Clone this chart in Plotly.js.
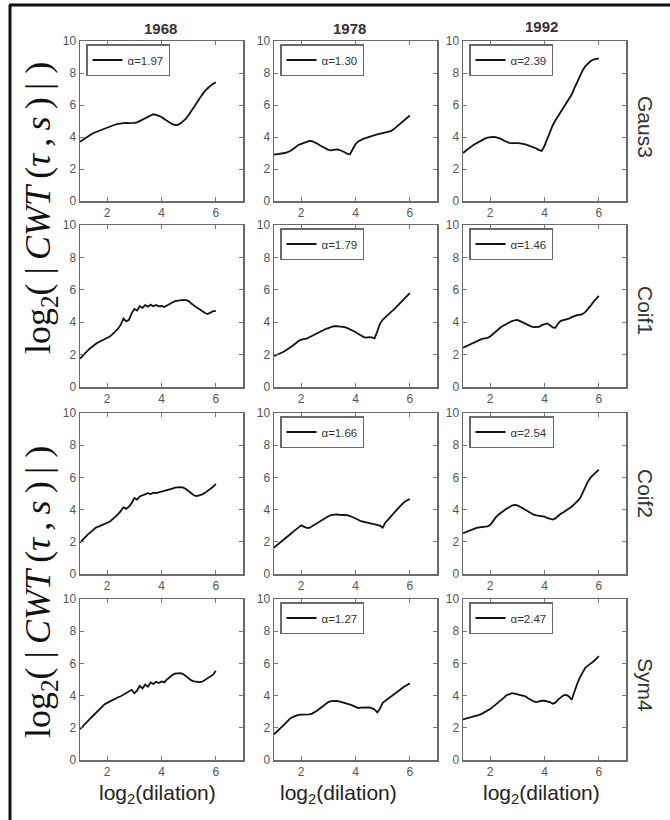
<!DOCTYPE html>
<html><head><meta charset="utf-8">
<script src="https://cdn.plot.ly/plotly-3.0.1.min.js"></script>
<style>html,body{margin:0;padding:0;background:#fff}</style>
</head><body><div id="chart" style="width:670px;height:820px"></div>
<script>
// ---------- data ----------
const dilation = [1.0,1.1,1.2,1.3,1.4,1.5,1.6,1.7,1.8,1.9,2.0,2.1,2.2,2.3,2.4,2.5,2.6,2.7,2.8,2.9,3.0,3.1,3.2,3.3,3.4,3.5,3.6,3.7,3.8,3.9,4.0,4.1,4.2,4.3,4.4,4.5,4.6,4.7,4.8,4.9,5.0,5.1,5.2,5.3,5.4,5.5,5.6,5.7,5.8,5.9,6.0];
const years = ["1968","1978","1992"];
const wavelets = ["Gaus3","Coif1","Coif2","Sym4"];
const xTicks = [2,4,6];
const yTicks = [0,2,4,6,8,10];

const gaus3_1968 = [3.70,3.82,3.95,4.05,4.15,4.25,4.32,4.38,4.45,4.50,4.55,4.62,4.70,4.78,4.82,4.85,4.86,4.88,4.87,4.86,4.88,4.92,5.00,5.08,5.15,5.25,5.35,5.42,5.38,5.32,5.25,5.12,5.00,4.90,4.80,4.75,4.76,4.85,4.98,5.15,5.38,5.65,5.92,6.18,6.42,6.65,6.88,7.05,7.20,7.32,7.42];
const gaus3_1978 = [2.90,2.92,2.95,2.98,3.00,3.05,3.12,3.25,3.38,3.50,3.57,3.63,3.70,3.75,3.74,3.68,3.58,3.47,3.37,3.28,3.20,3.17,3.20,3.23,3.20,3.14,3.05,2.95,2.92,3.25,3.55,3.72,3.82,3.90,3.95,4.02,4.08,4.12,4.17,4.20,4.24,4.27,4.30,4.36,4.48,4.62,4.78,4.93,5.08,5.22,5.34];
const gaus3_1992 = [3.00,3.15,3.28,3.40,3.52,3.62,3.72,3.82,3.90,3.96,4.00,4.01,3.99,3.95,3.88,3.78,3.68,3.63,3.62,3.64,3.62,3.60,3.58,3.54,3.48,3.42,3.37,3.28,3.18,3.13,3.45,3.90,4.35,4.72,5.03,5.30,5.55,5.78,6.05,6.30,6.65,7.05,7.42,7.80,8.15,8.42,8.62,8.75,8.84,8.90,8.92];

const coif1_1968 = [1.75,1.95,2.12,2.28,2.42,2.56,2.68,2.78,2.86,2.93,3.00,3.12,3.26,3.42,3.60,3.85,4.22,4.05,4.15,4.55,4.82,4.72,4.98,4.88,5.06,4.96,5.08,4.98,5.06,4.98,5.00,4.94,5.05,5.15,5.22,5.30,5.34,5.36,5.38,5.36,5.30,5.15,5.00,4.90,4.80,4.68,4.57,4.50,4.60,4.68,4.68];
const coif1_1978 = [1.92,1.98,2.05,2.13,2.22,2.32,2.43,2.56,2.70,2.84,2.92,2.95,2.99,3.07,3.16,3.24,3.32,3.41,3.49,3.58,3.64,3.70,3.75,3.76,3.74,3.73,3.69,3.63,3.56,3.49,3.40,3.28,3.16,3.08,3.05,3.08,3.06,3.00,3.42,3.90,4.15,4.32,4.48,4.62,4.76,4.94,5.14,5.32,5.48,5.64,5.80];
const coif1_1992 = [2.42,2.50,2.60,2.68,2.76,2.84,2.92,2.97,3.00,3.03,3.12,3.27,3.42,3.58,3.70,3.80,3.90,3.99,4.07,4.12,4.14,4.07,3.98,3.89,3.80,3.74,3.70,3.69,3.72,3.82,3.88,3.92,3.82,3.68,3.65,3.92,4.08,4.12,4.14,4.22,4.31,4.38,4.43,4.46,4.50,4.62,4.80,5.02,5.25,5.45,5.63];

const coif2_1968 = [1.95,2.15,2.32,2.48,2.62,2.78,2.90,2.96,3.02,3.10,3.18,3.26,3.38,3.55,3.72,3.90,4.15,4.05,4.18,4.40,4.72,4.62,4.82,4.88,4.94,5.02,4.96,5.05,5.02,5.06,5.10,5.14,5.18,5.24,5.30,5.36,5.39,5.40,5.36,5.28,5.14,4.99,4.88,4.84,4.88,4.95,5.04,5.15,5.28,5.42,5.60];
const coif2_1978 = [1.65,1.78,1.90,2.03,2.17,2.32,2.47,2.62,2.77,2.92,3.02,2.94,2.86,2.86,2.97,3.08,3.19,3.30,3.40,3.50,3.59,3.65,3.69,3.70,3.68,3.67,3.67,3.65,3.60,3.54,3.46,3.37,3.28,3.24,3.21,3.18,3.15,3.12,3.07,3.00,2.88,3.20,3.38,3.55,3.75,3.95,4.14,4.33,4.48,4.58,4.65];
const coif2_1992 = [2.53,2.60,2.67,2.74,2.80,2.86,2.90,2.92,2.94,2.96,3.04,3.30,3.50,3.68,3.82,3.94,4.05,4.15,4.25,4.29,4.26,4.18,4.08,3.96,3.84,3.74,3.68,3.64,3.62,3.60,3.56,3.48,3.42,3.38,3.45,3.62,3.74,3.84,3.94,4.06,4.18,4.34,4.50,4.68,5.02,5.42,5.75,6.00,6.18,6.33,6.48];

const sym4_1968 = [1.91,2.10,2.28,2.45,2.62,2.78,2.95,3.12,3.28,3.45,3.55,3.65,3.75,3.82,3.90,3.96,4.05,4.15,4.25,4.36,4.15,4.30,4.60,4.45,4.68,4.55,4.82,4.72,4.86,4.78,4.88,4.82,5.00,5.15,5.28,5.36,5.40,5.40,5.34,5.22,5.06,4.94,4.88,4.85,4.84,4.86,4.96,5.08,5.18,5.30,5.54];
const sym4_1978 = [1.60,1.78,1.92,2.07,2.25,2.42,2.58,2.68,2.76,2.80,2.82,2.82,2.82,2.83,2.88,2.96,3.08,3.21,3.35,3.48,3.60,3.66,3.68,3.67,3.64,3.60,3.55,3.50,3.44,3.38,3.30,3.23,3.25,3.27,3.28,3.27,3.22,3.14,2.96,3.18,3.55,3.68,3.80,3.92,4.08,4.22,4.34,4.46,4.56,4.66,4.76];
const sym4_1992 = [2.52,2.56,2.60,2.65,2.69,2.74,2.80,2.88,2.96,3.06,3.17,3.30,3.43,3.57,3.70,3.86,4.02,4.10,4.15,4.12,4.08,4.04,4.00,3.95,3.84,3.72,3.64,3.60,3.66,3.68,3.68,3.66,3.60,3.50,3.56,3.75,3.90,4.02,4.04,3.94,3.74,4.30,4.72,5.12,5.45,5.72,5.86,5.98,6.12,6.28,6.46];

const alphaGaus3 = ["1.97","1.30","2.39"];
const alphaCoif1 = [null,"1.79","1.46"];
const alphaCoif2 = [null,"1.66","2.54"];
const alphaSym4  = [null,"1.27","2.47"];

const series = [
  [gaus3_1968, gaus3_1978, gaus3_1992],
  [coif1_1968, coif1_1978, coif1_1992],
  [coif2_1968, coif2_1978, coif2_1992],
  [sym4_1968, sym4_1978, sym4_1992]
];
const alphas = [alphaGaus3, alphaCoif1, alphaCoif2, alphaSym4];

// ---------- layout geometry (pixels) ----------
const W = 670, H = 820;
const colL = [80, 274, 463], colR = [243, 437, 626];
const rowT = [41, 225, 413, 599], rowB = [201, 387, 574, 760];
const px = v => v / W, py = v => 1 - v / H;

const FRAME = '#6a6a6a', TICKC = '#777', LBL = '#555';
const SANS = 'Liberation Sans, Arial, sans-serif';

const traces = [];
const layout = {
  width: W, height: H,
  margin: {l: 0, r: 0, t: 0, b: 0},
  paper_bgcolor: '#fff', plot_bgcolor: '#fff',
  showlegend: true,
  annotations: [], shapes: []
};

let legendCount = 0;
for (let r = 0; r < 4; r++) {
  for (let c = 0; c < 3; c++) {
    const k = r * 3 + c + 1;
    const xa = k === 1 ? 'xaxis' : 'xaxis' + k;
    const ya = k === 1 ? 'yaxis' : 'yaxis' + k;
    const a = alphas[r][c];
    const tr = {
      x: dilation, y: series[r][c], type: 'scatter', mode: 'lines',
      line: {color: '#111', width: 1.8},
      xaxis: 'x' + (k === 1 ? '' : k), yaxis: 'y' + (k === 1 ? '' : k),
      showlegend: false, hoverinfo: 'skip'
    };
    if (a) {
      legendCount++;
      const lid = legendCount === 1 ? 'legend' : 'legend' + legendCount;
      tr.showlegend = true;
      tr.name = 'α=' + a;
      tr.legend = lid;
      layout[lid] = {
        x: px(colL[c] + 6), y: py(rowT[r] + 3), xanchor: 'left', yanchor: 'top',
        bgcolor: '#fff', bordercolor: FRAME, borderwidth: 1.5,
        font: {family: SANS, size: 11.5, color: '#333'},
        itemwidth: 30, tracegroupgap: 0
      };
    }
    traces.push(tr);
    const common = {
      showline: true, linecolor: FRAME, linewidth: 1.5, mirror: 'ticks',
      ticks: 'inside', ticklen: 4, tickcolor: TICKC, tickwidth: 1,
      showgrid: false, zeroline: false, fixedrange: true,
      tickfont: {family: SANS, size: 12, color: LBL}
    };
    layout[xa] = Object.assign({}, common, {
      domain: [px(colL[c]), px(colR[c])], range: [1, 7], tickvals: xTicks,
      anchor: 'y' + (k === 1 ? '' : k)
    });
    layout[ya] = Object.assign({}, common, {
      domain: [py(rowB[r]), py(rowT[r])], range: [0, 10], tickvals: yTicks,
      anchor: 'x' + (k === 1 ? '' : k)
    });
  }
}

// column titles
const colTitleX = [160, 350, 541], colTitleY = [28, 28, 26];
years.forEach((yr, c) => layout.annotations.push({
  text: yr, xref: 'paper', yref: 'paper', x: px(colTitleX[c]), y: py(colTitleY[c]),
  showarrow: false, xanchor: 'center', yanchor: 'middle',
  font: {family: SANS, size: 15, color: '#333', weight: 'bold'}
}));
// row labels on the right
const rowLabelY = [127, 310, 493, 685];
wavelets.forEach((w, r) => layout.annotations.push({
  text: w, xref: 'paper', yref: 'paper', x: px(646), y: py(rowLabelY[r]),
  showarrow: false, xanchor: 'center', yanchor: 'middle', textangle: 90,
  font: {family: SANS, size: 21, color: '#333'}
}));
// x axis labels
const xLabelX = [157, 338, 541];
xLabelX.forEach(xx => layout.annotations.push({
  text: 'log<sub>2</sub>(dilation)', xref: 'paper', yref: 'paper', x: px(xx), y: py(794),
  showarrow: false, xanchor: 'center', yanchor: 'middle',
  font: {family: SANS, size: 21, color: '#222'}
}));
// big y labels
[208, 592].forEach(yy => layout.annotations.push({
  text: 'log<sub>2</sub>( |\u2009<i>CWT</i>\u2009(<i>τ</i>\u2009,\u2009<i>s</i>\u2009)\u2009| )', xref: 'paper', yref: 'paper',
  x: px(40), y: py(yy), showarrow: false, xanchor: 'center', yanchor: 'middle', textangle: -90,
  font: {family: 'Liberation Serif, Times New Roman, serif', size: 36, color: '#111'}
}));
// outer frame (top and left edges)
layout.shapes.push({type: 'line', xref: 'paper', yref: 'paper', x0: px(9), x1: 1, y0: py(5), y1: py(5), line: {color: '#111', width: 3}});
layout.shapes.push({type: 'line', xref: 'paper', yref: 'paper', x0: px(10), x1: px(10), y0: py(5), y1: 0, line: {color: '#111', width: 3}});

Plotly.newPlot('chart', traces, layout, {displayModeBar: false, staticPlot: true});
</script></body></html>
